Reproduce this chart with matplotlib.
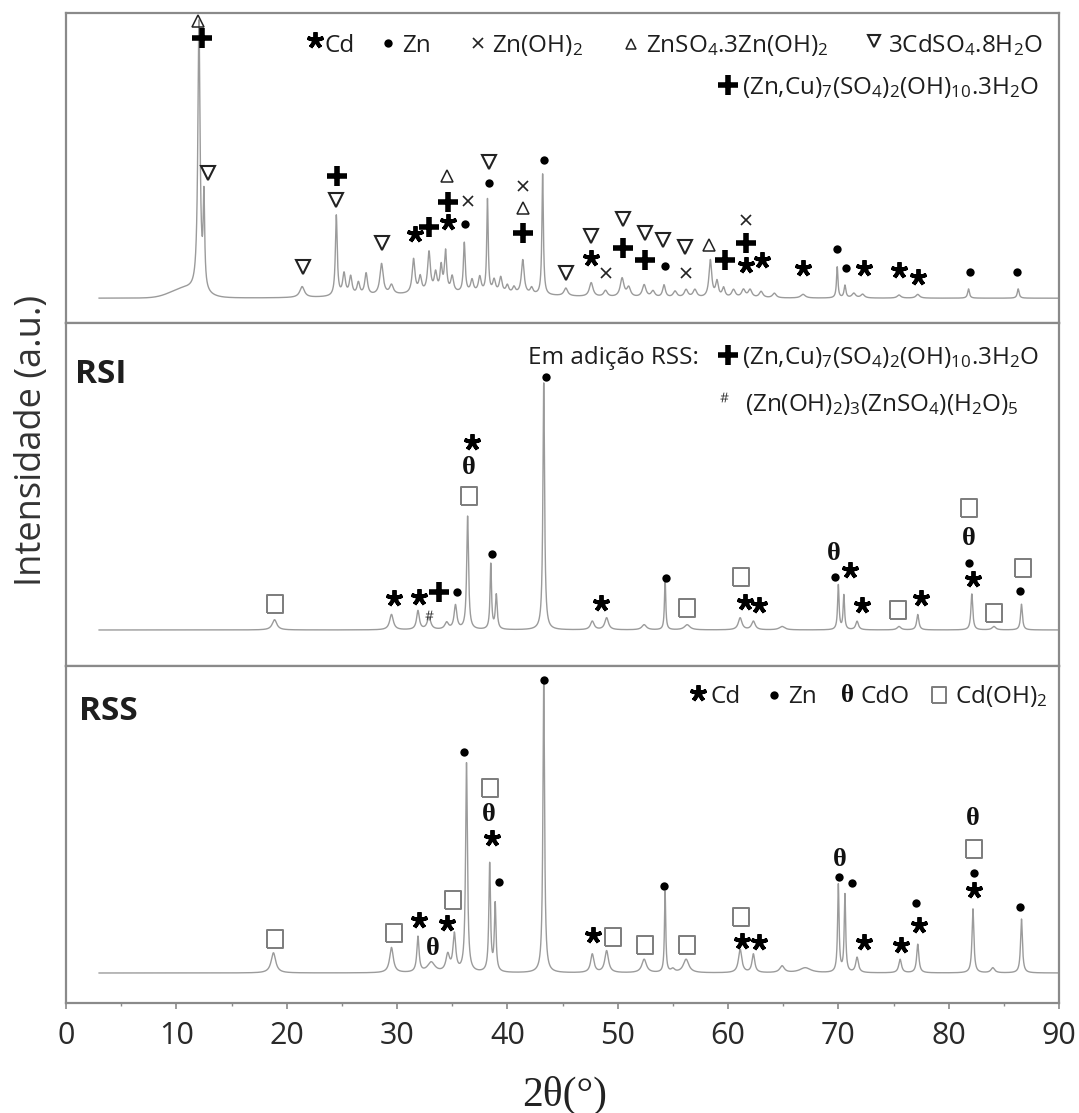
import numpy as np
import matplotlib.pyplot as plt

plt.rcParams['font.family'] = ['Open Sans', 'DejaVu Sans']
plt.rcParams['mathtext.fontset'] = 'custom'
plt.rcParams['mathtext.rm'] = 'Open Sans'
plt.rcParams['mathtext.it'] = 'Open Sans'
plt.rcParams['mathtext.bf'] = 'Open Sans:bold'
plt.rcParams['mathtext.default'] = 'regular'

W, H = 1079, 1113

# Difratograma do resíduo original: posição 2θ, altura, meia largura
top_pos = [12.05, 12.5, 21.4, 24.5, 25.2, 25.8, 26.5, 27.2, 28.6, 29.5,
           31.5, 32.1, 32.9, 33.5, 34.0, 34.4, 35.0, 36.1, 36.8, 37.5,
           38.2, 38.8, 39.4, 40.0, 40.6, 41.4, 42.2, 43.2, 45.3, 47.6,
           48.9, 50.4, 51.0, 52.4, 53.2, 54.2, 55.2, 56.2, 57.0, 58.4,
           59.0, 59.6, 60.5, 61.4, 62.0, 63.0, 64.2, 66.8, 69.9, 70.6,
           71.4, 72.2, 75.5, 77.2, 81.8, 86.3]
top_h = [87, 29, 3.5, 26, 7, 6, 4, 7, 10, 3,
         11, 5, 13, 6, 8, 13, 5, 16, 4, 5,
         30, 4, 5, 2.5, 2, 11, 2, 39, 2.5, 4.5,
         2, 6, 3, 4, 2, 4, 2, 2.5, 2.5, 12,
         5, 3, 2.5, 2.5, 2.5, 2, 1.5, 1.2, 10, 4,
         1.5, 1.2, 1, 1.2, 3, 3]
top_w = [0.12, 0.08, 0.25, 0.1, 0.15, 0.15, 0.15, 0.15, 0.18, 0.2,
         0.15, 0.15, 0.15, 0.15, 0.12, 0.12, 0.15, 0.1, 0.15, 0.15,
         0.08, 0.15, 0.15, 0.15, 0.15, 0.15, 0.15, 0.08, 0.2, 0.2,
         0.2, 0.2, 0.2, 0.2, 0.2, 0.15, 0.2, 0.2, 0.2, 0.15,
         0.15, 0.15, 0.2, 0.2, 0.2, 0.2, 0.2, 0.25, 0.08, 0.1,
         0.2, 0.2, 0.2, 0.2, 0.1, 0.1]
top_hump = [(10.8, 3.0, 1.3), (36.0, 1.5, 7.0)]
top_base = 8.0

# RSI
rsi_pos = [18.9, 29.5, 31.9, 32.9, 34.5, 35.3, 36.4, 38.5, 39.0, 43.3,
           47.7, 49.0, 52.4, 54.3, 56.3, 61.1, 62.3, 64.9, 70.0, 70.5,
           71.7, 75.5, 77.2, 82.1, 84.1, 86.6]
rsi_h = [3, 4.5, 5.5, 3.5, 2, 7, 33, 19, 10, 72,
         2.5, 3.5, 1.5, 15, 1.5, 3.5, 2.5, 1, 13, 10,
         2.5, 1, 4.5, 10.5, 1, 7.5]
rsi_w = [0.25, 0.2, 0.15, 0.2, 0.2, 0.15, 0.1, 0.08, 0.1, 0.09,
         0.2, 0.2, 0.25, 0.07, 0.3, 0.2, 0.2, 0.3, 0.08, 0.08,
         0.15, 0.2, 0.12, 0.1, 0.2, 0.1]
rsi_hump = []
rsi_base = 10.5

# RSS
rss_pos = [18.8, 29.5, 31.9, 33.1, 34.6, 35.2, 36.3, 38.4, 38.9, 43.3,
           47.7, 49.0, 52.4, 54.3, 55.0, 56.2, 61.1, 62.3, 64.9, 67.0,
           70.0, 70.6, 71.7, 75.6, 77.2, 82.2, 84.0, 86.6]
rss_h = [6, 7.5, 10.5, 3, 5, 11, 62, 32, 20, 86,
         5.5, 6.5, 4, 24, 1, 4, 7, 5.5, 2, 1.5,
         26, 23, 4.5, 4, 8.5, 19, 1.5, 16]
rss_w = [0.25, 0.2, 0.12, 0.4, 0.2, 0.15, 0.1, 0.09, 0.09, 0.09,
         0.18, 0.2, 0.25, 0.07, 0.2, 0.3, 0.18, 0.15, 0.25, 0.6,
         0.08, 0.08, 0.15, 0.15, 0.12, 0.1, 0.2, 0.1]
rss_hump = []
rss_base = 8.9

# Identificação das fases: 2θ, altura do símbolo, símbolo
top_mk_x = [12.0, 12.3, 12.9, 21.5, 24.6, 24.5, 28.6, 31.6, 32.9, 34.6,
            34.6, 34.5, 36.2, 36.4, 38.3, 38.3, 41.4, 41.4, 41.4, 43.3,
            45.3, 47.6, 47.6, 48.9, 50.5, 50.5, 52.5, 52.5, 54.3, 54.1,
            56.1, 56.2, 58.3, 59.7, 61.6, 61.6, 61.6, 63.1, 66.8, 69.9,
            70.7, 72.3, 75.5, 77.2, 81.9, 86.2]
top_mk_y = [97.4, 92, 48.4, 18.1, 47.4, 39.7, 25.8, 28.7, 31, 32.6,
            39, 47.4, 32, 39.4, 45.2, 52, 29, 37.1, 44.2, 52.6,
            16.1, 21, 28.1, 16.1, 24.2, 33.5, 20.3, 29, 18.4, 26.8,
            24.5, 16.1, 25.2, 20.3, 18.7, 25.8, 33.2, 20.3, 17.7, 23.9,
            17.7, 17.7, 17.1, 14.8, 16.5, 16.5]
top_mk_s = ['^', '+', 'v', 'v', '+', 'v', 'v', '*', '+', '*',
            '+', '^', 'o', 'x', 'o', 'v', '+', '^', 'x', 'o',
            'v', '*', 'v', 'x', '+', 'v', '+', 'v', 'o', 'v',
            'v', 'x', '^', '+', '*', '+', 'x', '*', '*', 'o',
            'o', '*', '*', '*', 'o', 'o']

rsi_mk_x = [18.9, 29.7, 32.0, 32.9, 33.8, 35.4, 36.5, 36.5, 36.8, 38.6,
            43.5, 48.5, 54.4, 56.3, 61.2, 61.5, 62.8, 69.6, 69.7, 71.1,
            72.1, 75.4, 77.5, 81.8, 81.8, 81.8, 82.2, 84.1, 86.5, 86.7]
rsi_mk_y = [18.1, 19.8, 20.1, 14.9, 21.6, 21.6, 49.6, 58, 65.3, 32.7,
            84.3, 18.4, 25.7, 16.9, 26, 18.7, 17.8, 32.9, 26, 28,
            17.8, 16.3, 19.8, 46, 37.3, 30, 25.4, 15.5, 21.9, 28.6]
rsi_mk_s = ['s', '*', '*', '#', '+', 'o', 's', 't', '*', 'o',
            'o', '*', 'o', 's', 's', '*', '*', 't', 'o', '*',
            '*', 's', '*', 's', 't', 'o', '*', 's', 'o', 's']

rss_mk_x = [18.9, 29.7, 32.0, 33.2, 34.5, 35.1, 36.1, 38.4, 38.3, 38.6,
            39.2, 43.3, 47.8, 49.6, 52.5, 54.2, 56.3, 61.2, 61.3, 62.8,
            70.1, 70.1, 71.2, 72.3, 75.7, 77.0, 77.3, 82.2, 82.3, 82.3,
            82.3, 86.5]
rss_mk_y = [19, 20.8, 24.6, 16.3, 23.7, 30.6, 74.5, 63.8, 55.8, 49,
            35.9, 95.8, 20.2, 19.6, 17.2, 34.7, 17.2, 25.5, 18.4, 18.1,
            42.7, 37.4, 35.6, 18.1, 17.2, 29.7, 23.1, 54.6, 45.7, 38.6,
            33.5, 28.5]
rss_mk_s = ['s', 's', '*', 't', '*', 's', 'o', 's', 't', '*',
            'o', 'o', '*', 's', 's', 'o', 's', 's', '*', '*',
            't', 'o', 'o', '*', '*', 'o', '*', 't', 's', 'o',
            '*', 'o']

LINE = '#9b9b9b'
FRAME = '#8a8a8a'
TXT = '#1e1e1e'
RECT = [(-0.9, -1), (0.9, -1), (0.9, 1), (-0.9, 1), (-0.9, -1)]

STYLE = {
    '*': dict(marker=(5, 2, 0), ms=12, mew=2.8, color='black'),
    'o': dict(marker='o', ms=6, color='black', mew=0),
    'x': dict(marker='x', ms=7.5, mew=1.2, color='#222222'),
    '^': dict(marker='^', ms=8, mfc='none', mec='#222222', mew=1.1),
    'v': dict(marker='v', ms=9.5, mfc='none', mec='#222222', mew=1.5),
    '+': dict(marker='+', ms=14, mew=4, color='black'),
    's': dict(marker=RECT, ms=12.5, mfc='none', mec='#7c7c7c', mew=1.4),
    '#': dict(marker='$\\#$', ms=7, color='#333333', mew=0),
}


def pattern(x, pos, h, w, base, humps):
    y = np.full_like(x, base)
    for c, a, g in zip(pos, h, w):
        y += a / (1 + ((x - c) / g) ** 2)
    for c, a, s in humps:
        y += a * np.exp(-0.5 * ((x - c) / s) ** 2)
    return y


def draw_marks(ax, xs, ys, syms):
    for key in set(syms):
        px = [x for x, s in zip(xs, syms) if s == key]
        py = [y for y, s in zip(ys, syms) if s == key]
        if key == 't':
            for a, b in zip(px, py):
                ax.text(a, b, 'θ', family='Liberation Serif', fontsize=19,
                        weight='bold', ha='center', va='center', color='#111111')
        else:
            ax.plot(px, py, ls='none', clip_on=False, **STYLE[key])


def fig_pt(x, y):
    return x / W, 1 - y / H


def fig_mark(key, x, y, **kw):
    style = dict(STYLE[key])
    style.update(kw)
    fig.add_artist(plt.Line2D([x / W], [1 - y / H], transform=fig.transFigure,
                              ls='none', **style))


def fig_label(x, y, s, size=17.5, **kw):
    fig.text(*fig_pt(x, y), s, fontsize=size, ha='left', va='baseline',
             color=TXT, **kw)


fig = plt.figure(figsize=(W / 100, H / 100), dpi=100)
left, width = 66 / W, 993 / W
ax1 = fig.add_axes([left, 1 - 323 / H, width, 310 / H])
ax2 = fig.add_axes([left, 1 - 666 / H, width, 343 / H])
ax3 = fig.add_axes([left, 1 - 1003 / H, width, 337 / H])

x = np.arange(3, 90, 0.01)
panels = [
    (ax1, top_pos, top_h, top_w, top_base, top_hump, top_mk_x, top_mk_y, top_mk_s),
    (ax2, rsi_pos, rsi_h, rsi_w, rsi_base, rsi_hump, rsi_mk_x, rsi_mk_y, rsi_mk_s),
    (ax3, rss_pos, rss_h, rss_w, rss_base, rss_hump, rss_mk_x, rss_mk_y, rss_mk_s),
]
for ax, pos, h, w, base, humps, mx, my, ms in panels:
    ax.plot(x, pattern(x, pos, h, w, base, humps), color=LINE, lw=1.0)
    draw_marks(ax, mx, my, ms)
    ax.set_xlim(0, 90)
    ax.set_ylim(0, 100)
    ax.set_yticks([])
    for sp in ax.spines.values():
        sp.set_color(FRAME)
        sp.set_linewidth(1.6)

for ax in (ax1, ax2):
    ax.set_xticks([])

ax3.set_xticks(range(0, 91, 10))
ax3.set_xticks(range(5, 90, 10), minor=True)
ax3.tick_params(axis='x', which='major', direction='out', length=4, width=1.2,
                color=FRAME, labelsize=22, labelcolor='#2a2a2a', pad=9)
ax3.tick_params(axis='x', which='minor', direction='out', length=2.5, width=1,
                color=FRAME)

# legenda do painel superior
fig_mark('*', 315, 40)
fig_label(325, 52, 'Cd')
fig_mark('o', 388, 43)
fig_label(402, 52, 'Zn')
fig_mark('x', 478, 43)
fig_label(492, 52, 'Zn(OH)$_2$')
fig_mark('^', 631, 44, ms=7)
fig_label(646, 52, 'ZnSO$_4$.3Zn(OH)$_2$')
fig_mark('v', 874, 41, ms=8)
fig_label(888, 52, '3CdSO$_4$.8H$_2$O')
fig_mark('+', 728, 85)
fig_label(742, 94, '(Zn,Cu)$_7$(SO$_4$)$_2$(OH)$_{10}$.3H$_2$O')

# RSI
fig_label(75, 383, 'RSI', size=24, weight='bold')
fig_label(528, 364, 'Em adição RSS:')
fig_mark('+', 728, 355)
fig_label(742, 364, '(Zn,Cu)$_7$(SO$_4$)$_2$(OH)$_{10}$.3H$_2$O')
fig_mark('#', 724, 397)
fig_label(745, 411, '(Zn(OH)$_2$)$_3$(ZnSO$_4$)(H$_2$O)$_5$')

# RSS
fig_label(79, 720, 'RSS', size=24, weight='bold')
fig_mark('*', 698, 693)
fig_label(710, 703, 'Cd')
fig_mark('o', 774, 695)
fig_label(788, 703, 'Zn')
fig.text(*fig_pt(847, 696), 'θ', family='Liberation Serif', fontsize=18,
         weight='bold', ha='center', va='center', color='#111111')
fig_label(860, 703, 'CdO')
fig_mark('s', 939, 695, ms=11)
fig_label(955, 703, 'Cd(OH)$_2$')

fig.text(*fig_pt(32, 440), 'Intensidade (a.u.)', rotation=90, fontsize=26,
         ha='center', va='center', color='#333333')
fig.text(*fig_pt(565, 1106), '2θ(°)', family='Liberation Serif', fontsize=30,
         ha='center', va='baseline', color='#222222')

fig.savefig('out.png', dpi=100)
